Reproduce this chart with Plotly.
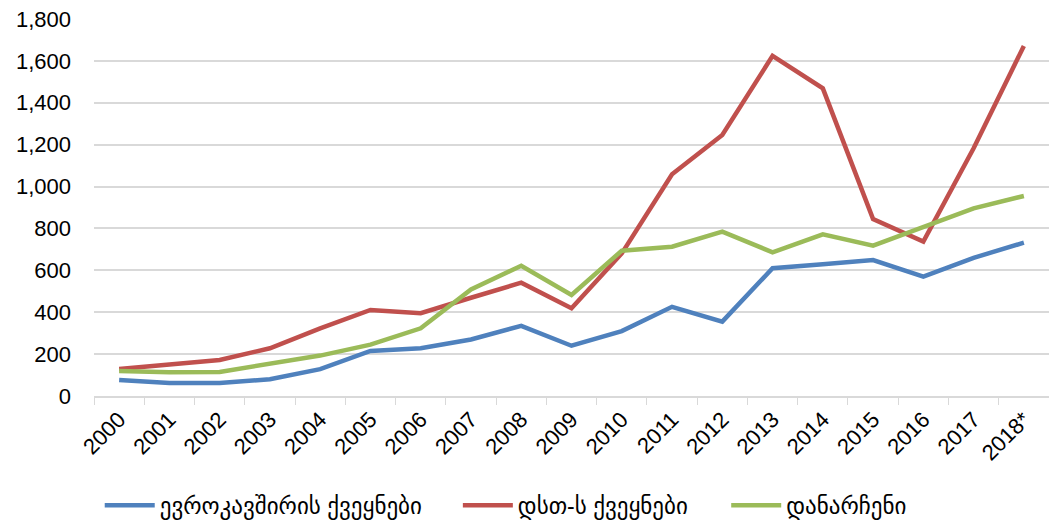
import plotly.graph_objects as go

years = ["2000", "2001", "2002", "2003", "2004", "2005", "2006", "2007", "2008", "2009",
         "2010", "2011", "2012", "2013", "2014", "2015", "2016", "2017", "2018*"]
eu = [76, 62, 62, 80, 128, 215, 228, 270, 335, 240, 310, 426, 355, 610, 629, 649, 570, 660, 732]
cis = [129, 148, 172, 228, 323, 411, 395, 469, 541, 419, 681, 1059, 1246, 1624, 1469, 845, 737, 1183, 1671]
other = [119, 113, 115, 156, 193, 245, 323, 509, 622, 482, 694, 713, 785, 686, 772, 718, 808, 896, 955]

names = ["ევროკავშირის ქვეყნები", "დსთ-ს ქვეყნები", "დანარჩენი"]
colors = ["#4F81BD", "#C0504D", "#9BBB59"]
legends = ["legend", "legend2", "legend3"]
legend_x = [0.006, 0.381, 0.662]

fig = go.Figure()
for name, vals, col, lg in zip(names, [eu, cis, other], colors, legends):
    fig.add_trace(go.Scatter(x=years, y=vals, name=name, mode="lines", legend=lg,
                             line=dict(color=col, width=4.5)))

legend_common = dict(orientation="h", y=-0.29, yanchor="middle", xanchor="left",
                     font=dict(size=23), bgcolor="rgba(0,0,0,0)", itemwidth=50)
fig.update_layout(
    width=1049, height=525,
    margin=dict(l=94, r=0, t=19, b=129, autoexpand=False),
    paper_bgcolor="white", plot_bgcolor="white",
    font=dict(family="Arial, DejaVu Sans", size=22, color="#000000"),
    showlegend=True,
    legend=dict(x=legend_x[0], **legend_common),
    legend2=dict(x=legend_x[1], **legend_common),
    legend3=dict(x=legend_x[2], **legend_common),
    xaxis=dict(type="category", tickangle=-45, showgrid=False, range=[-0.5, 18.5],
               automargin=False,
               showline=True, linecolor="#D9D9D9", linewidth=2,
               ticks="outside", tickson="boundaries", ticklen=7, tickcolor="#D9D9D9",
               tickfont=dict(size=22)),
    yaxis=dict(range=[0, 1800], tick0=0, dtick=200, tickformat=",", showgrid=True,
               automargin=False,
               gridcolor="#D9D9D9", gridwidth=2, zeroline=False, showline=False,
               ticklabelstandoff=22, tickfont=dict(size=22)),
)

fig.write_html("out.html", config={"displayModeBar": False},
               post_script="document.body.style.margin='0';")
